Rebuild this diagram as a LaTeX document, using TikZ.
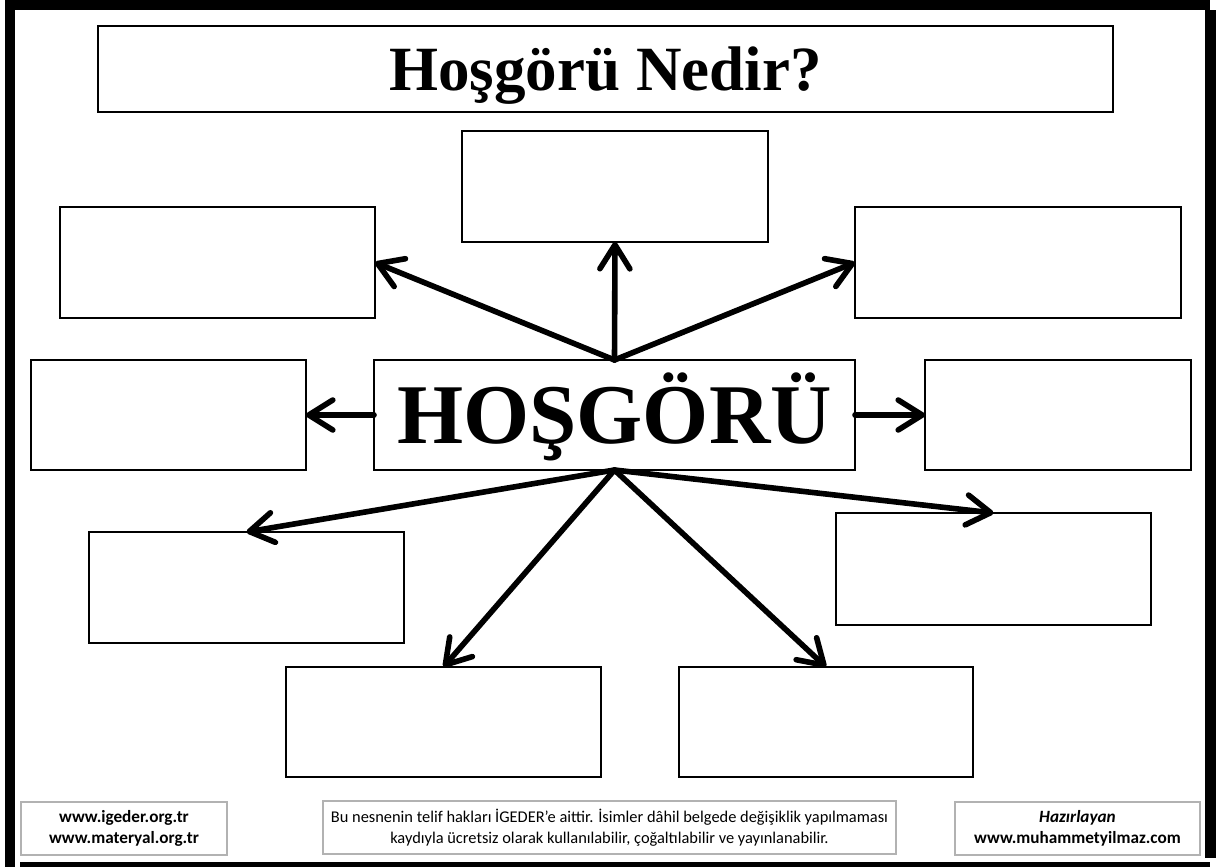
\documentclass[tikz,border=0pt]{standalone}
\usepackage{fontspec}
\setmainfont{Liberation Serif}
\newfontfamily\calfont{Carlito}
\usetikzlibrary{arrows.meta}
\begin{document}
\begin{tikzpicture}[x=0.5pt,y=-0.5pt,
  box/.style={draw, line width=1.4pt, rectangle, inner sep=0pt, outer sep=0pt},
  fbox/.style={draw=black!30, line width=0.6pt, rectangle, inner sep=0pt, outer sep=0pt, align=center},
  arr/.style={line width=2.8pt, -{Straight Barb[length=12pt,width=15pt,round]}, line cap=round}]
\useasboundingbox (0,0) rectangle (1216,867);
% frame
\fill[black] (5,0) rectangle (1210,10);
\fill[black] (5,0) rectangle (15,867);
\fill[black] (1205,10) rectangle (1216,858);
\fill[black] (20,862) rectangle (1210,867);
% boxes
\node[box, minimum width=507.5pt, minimum height=43pt, text height=21pt, text depth=0pt, font=\fontsize{31.5}{36}\selectfont\bfseries] (title) at (605.5,69) {Hoşgörü Nedir?};
\node[box, minimum width=153pt, minimum height=55.5pt] (top) at (615,186.5) {};
\node[box, minimum width=157.5pt, minimum height=55.5pt] (ul) at (217.5,262.5) {};
\node[box, minimum width=163pt, minimum height=55.5pt] (ur) at (1018,262.5) {};
\node[box, minimum width=240.5pt, minimum height=55pt, text height=28pt, text depth=0pt, font=\fontsize{42.5}{48}\selectfont\bfseries] (c) at (614.5,415) {HOŞGÖRÜ};
\node[box, minimum width=137.5pt, minimum height=55pt] (ml) at (168.5,415) {};
\node[box, minimum width=133pt, minimum height=55pt] (mr) at (1058,415) {};
\node[box, minimum width=157.5pt, minimum height=55.5pt] (ll) at (246.5,587.5) {};
\node[box, minimum width=157.5pt, minimum height=56pt] (lr) at (993.5,569) {};
\node[box, minimum width=157.5pt, minimum height=55pt] (bl) at (443.5,722) {};
\node[box, minimum width=147pt, minimum height=55pt] (br) at (826,722) {};
% arrows
\draw[arr] (c.north) -- (ul.east);
\draw[arr] (c.north) -- (top.south);
\draw[arr] (c.north) -- (ur.west);
\draw[arr] (c.west) -- (ml.east);
\draw[arr] (c.east) -- (mr.west);
\draw[arr] (c.south) -- (ll.north);
\draw[arr] (c.south) -- (bl.north);
\draw[arr] (c.south) -- (br.north);
\draw[arr] (c.south) -- (lr.north);
% footer
\node[fbox, minimum width=103pt, minimum height=26.5pt, font=\calfont\fontsize{8.6}{10.5}\selectfont\bfseries] (fl) at (124,828.5) {www.igeder.org.tr\\www.materyal.org.tr};
\node[fbox, minimum width=286.5pt, minimum height=26.5pt, font=\calfont\fontsize{8.2}{10.5}\selectfont] (fm) at (609.5,827.5) {Bu nesnenin telif hakları İGEDER’e aittir. İsimler dâhil belgede değişiklik yapılmaması\\kaydıyla ücretsiz olarak kullanılabilir, çoğaltılabilir ve yayınlanabilir.};
\node[fbox, minimum width=122.5pt, minimum height=26.5pt, font=\calfont\fontsize{8.6}{10.5}\selectfont\bfseries] (fr) at (1077.5,828.5) {\itshape Hazırlayan\\www.muhammetyilmaz.com};
\end{tikzpicture}
\end{document}
